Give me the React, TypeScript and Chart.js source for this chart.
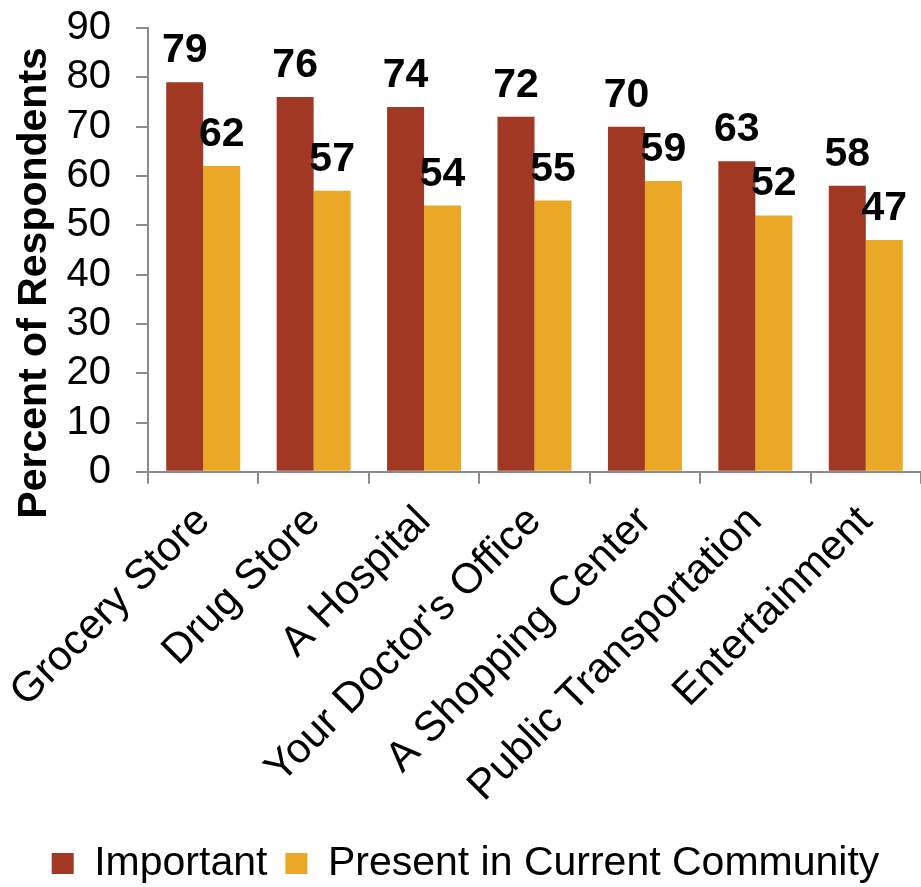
import React, { useEffect, useRef } from "react";
import { Chart, registerables } from "chart.js";

Chart.register(...registerables);

const categories = [
  "Grocery Store",
  "Drug Store",
  "A Hospital",
  "Your Doctor's Office",
  "A Shopping Center",
  "Public Transportation",
  "Entertainment",
];
const important = [79, 76, 74, 72, 70, 63, 58];
const presentInCommunity = [62, 57, 54, 55, 59, 52, 47];
const seriesNames = ["Important", "Present in Current Community"];
const yTitle = "Percent of Respondents";
const yMin = 0;
const yMax = 90;
const yStep = 10;

const FONT = "'Liberation Sans', Arial, Helvetica, sans-serif";
const RED = "#A13823";
const GOLD = "#EAA826";
const AXIS_GRAY = "#8C8C8C";
const PAD_LEFT = 10;
const PLOT_LEFT = 148;

// Bold value written above each bar
const valueLabels = {
  id: "valueLabels",
  afterDatasetsDraw(chart: any) {
    const ctx = chart.ctx;
    ctx.save();
    ctx.font = `bold 41px ${FONT}`;
    ctx.fillStyle = "#000";
    ctx.textAlign = "center";
    ctx.textBaseline = "alphabetic";
    chart.data.datasets.forEach((ds: any, i: number) => {
      const meta = chart.getDatasetMeta(i);
      meta.data.forEach((bar: any, j: number) => {
        ctx.fillText(String(ds.data[j]), bar.x, bar.y - 20);
      });
    });
    ctx.restore();
  },
};

// Vertical axis title, set a little below the middle of the plot
const axisTitle = {
  id: "axisTitle",
  afterDraw(chart: any) {
    const { ctx, chartArea } = chart;
    const cy = (chartArea.top + chartArea.bottom) / 2 + 33;
    ctx.save();
    ctx.translate(chart.scales.y.left + 36, cy);
    ctx.rotate(-Math.PI / 2);
    ctx.font = `bold 41px ${FONT}`;
    ctx.fillStyle = "#000";
    ctx.textAlign = "center";
    ctx.textBaseline = "alphabetic";
    ctx.fillText(yTitle, 0, 0);
    ctx.restore();
  },
};

export default function App() {
  const canvasRef = useRef<HTMLCanvasElement>(null);

  useEffect(() => {
    if (!canvasRef.current) return;
    const chart = new Chart(canvasRef.current, {
      type: "bar",
      data: {
        labels: categories,
        datasets: [
          {
            label: seriesNames[0],
            data: important,
            backgroundColor: RED,
            categoryPercentage: 0.67,
            barPercentage: 1.0,
          },
          {
            label: seriesNames[1],
            data: presentInCommunity,
            backgroundColor: GOLD,
            categoryPercentage: 0.67,
            barPercentage: 1.0,
          },
        ],
      },
      options: {
        responsive: false,
        animation: false,
        layout: { padding: { left: PAD_LEFT, top: 28, right: 0, bottom: -7 } },
        plugins: {
          legend: {
            position: "bottom",
            labels: {
              boxWidth: 22,
              boxHeight: 21,
              padding: 18,
              color: "#000",
              font: { family: FONT, size: 41 },
            },
          },
          tooltip: { enabled: false },
        },
        scales: {
          x: {
            afterFit(axis: any) {
              axis.paddingLeft = 0;
              axis.paddingRight = 0;
            },
            grid: {
              offset: true,
              drawOnChartArea: false,
              drawTicks: true,
              tickLength: 12,
              color: AXIS_GRAY,
              lineWidth: 2,
            },
            border: { display: true, color: AXIS_GRAY, width: 2 },
            ticks: {
              color: "#000",
              font: { family: FONT, size: 42 },
              minRotation: 45,
              maxRotation: 45,
              autoSkip: false,
              padding: 13,
            },
          },
          y: {
            min: yMin,
            max: yMax,
            afterFit(axis: any) {
              axis.width = PLOT_LEFT - PAD_LEFT;
              axis.paddingTop = 0;
              axis.paddingBottom = 0;
            },
            grid: {
              drawOnChartArea: false,
              drawTicks: true,
              tickLength: 12,
              color: AXIS_GRAY,
              lineWidth: 2,
            },
            border: { display: true, color: AXIS_GRAY, width: 2 },
            ticks: {
              stepSize: yStep,
              autoSkip: false,
              color: "#000",
              font: { family: FONT, size: 40 },
              padding: 25,
            },
            title: { display: false },
          },
        },
      },
      plugins: [valueLabels, axisTitle],
    });
    return () => chart.destroy();
  }, []);

  return (
    <div style={{ position: "absolute", left: 0, top: 0, width: 921, height: 887, background: "#fff" }}>
      <canvas ref={canvasRef} width={921} height={887} style={{ display: "block" }} />
    </div>
  );
}
